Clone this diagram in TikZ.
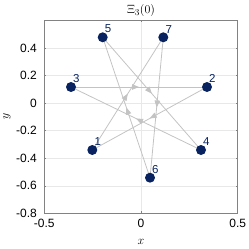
\documentclass[tikz,border=0pt]{standalone}
\usepackage{fontspec}
\setsansfont{Liberation Sans}
\usetikzlibrary{decorations.markings,arrows.meta}
\definecolor{navy}{RGB}{8,35,95}
\definecolor{edgegray}{RGB}{195,195,195}
\definecolor{gridgray}{RGB}{232,232,232}
\definecolor{boxgray}{RGB}{130,130,130}
\tikzset{
  pt/.style={circle,fill=navy,inner sep=0pt,minimum size=10pt},
  lbl/.style={text=navy,font=\sffamily\fontsize{11.5}{13}\selectfont,inner sep=0pt,anchor=south west},
  tick/.style={font=\sffamily\fontsize{12}{14}\selectfont,inner sep=0pt},
  edge/.style={draw=edgegray,line width=0.8pt,postaction={decorate},
    decoration={markings,mark=at position 0.5 with {\arrow{Triangle[length=7pt,width=5.5pt,fill=edgegray]}}}}
}
\begin{document}
\begin{tikzpicture}[x=1pt,y=-1pt]
\useasboundingbox (0,0) rectangle (249,249);
% grid
\foreach \v in {0.6,0.4,0.2,0,-0.2,-0.4,-0.6}{
  \draw[gridgray,line width=0.6pt] (44.3,{103.1-138*\v}) -- (237.7,{103.1-138*\v});
}
\draw[gridgray,line width=0.6pt] (141,20) -- (141,213.3);
% box
\draw[boxgray,line width=0.7pt] (44.3,20) rectangle (237.7,213.3);
% ticks
\foreach \v in {0.6,0.4,0.2,0,-0.2,-0.4,-0.6,-0.8}{
  \draw[boxgray,line width=0.6pt] (44.3,{103.1-138*\v}) -- (46.3,{103.1-138*\v});
  \draw[boxgray,line width=0.6pt] (237.7,{103.1-138*\v}) -- (235.7,{103.1-138*\v});
}
\foreach \u in {-0.5,0,0.5}{
  \draw[boxgray,line width=0.6pt] ({141+193.4*\u},213.3) -- ({141+193.4*\u},211.3);
  \draw[boxgray,line width=0.6pt] ({141+193.4*\u},20) -- ({141+193.4*\u},22);
}
% tick labels
\node[tick,anchor=east] (t04) at (37,48.3) {0.4};
\node[tick,anchor=east] (t02) at (37,75.8) {0.2};
\node[tick,anchor=east] (t00) at (37,103.3) {0};
\node[tick,anchor=east] (tm02) at (37,130.8) {-0.2};
\node[tick,anchor=east] (tm04) at (37,158.3) {-0.4};
\node[tick,anchor=east] (tm06) at (37,185.8) {-0.6};
\node[tick,anchor=east] (tm08) at (37,213.3) {-0.8};
\node[tick,anchor=north] (xm05) at (44.3,218.5) {-0.5};
\node[tick,anchor=north] (x0) at (141,218.5) {0};
\node[tick,anchor=north] (x05) at (237.7,218.5) {0.5};
% axis labels and title
\node[inner sep=0pt,font=\fontsize{13}{15}\selectfont] (xl) at (141,242) {$x$};
\node[inner sep=0pt,rotate=90,font=\fontsize{13}{15}\selectfont] (yl) at (7,116) {$y$};
\node[inner sep=0pt,font=\fontsize{12.5}{15}\selectfont] (title) at (141,10.5) {$\Xi_3(0)$};
% points
\coordinate (c1) at (92.3,150);
\coordinate (c2) at (207,87);
\coordinate (c3) at (71,87);
\coordinate (c4) at (201,150);
\coordinate (c5) at (102.7,37.3);
\coordinate (c6) at (150,177.7);
\coordinate (c7) at (163.3,37.3);
% edges
\draw[edge] (c1) -- (c7);
\draw[edge] (c7) -- (c6);
\draw[edge] (c6) -- (c5);
\draw[edge] (c5) -- (c4);
\draw[edge] (c4) -- (c3);
\draw[edge] (c3) -- (c2);
\draw[edge] (c2) -- (c1);
% nodes
\foreach \i in {1,...,7}{
  \node[pt] (n\i) at (c\i) {};
  \node[lbl] (l\i) at ([xshift=2pt,yshift=4pt]c\i) {\i};
}
\end{tikzpicture}
\end{document}
